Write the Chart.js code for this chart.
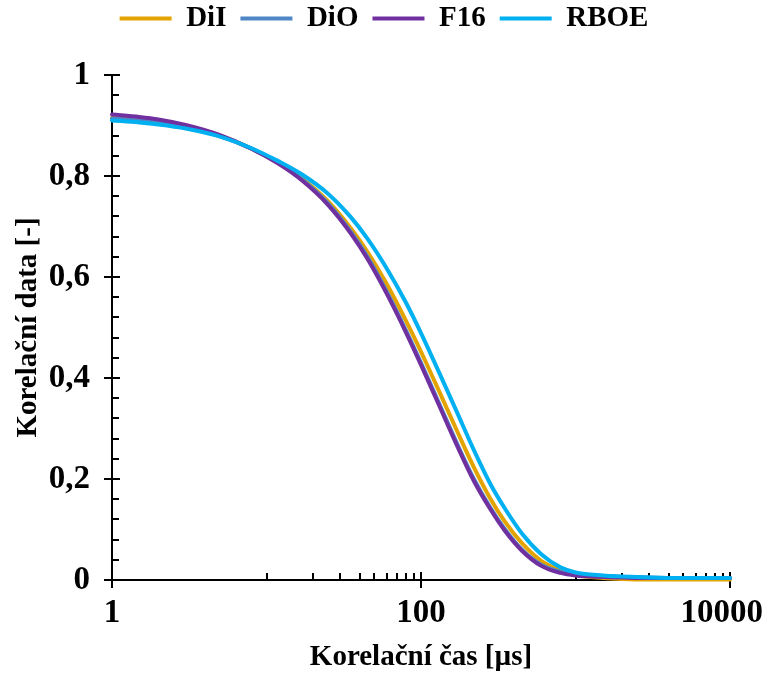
<!DOCTYPE html>
<html>
<head>
<meta charset="utf-8">
<script src="https://cdn.jsdelivr.net/npm/chart.js@4.4.0/dist/chart.umd.min.js"></script>
<style>
  html, body { margin: 0; padding: 0; background: #fff; }
</style>
</head>
<body>
<canvas id="chart" width="768" height="675"></canvas>
<script>
// correlation time [µs]
const times = [1, 1.5, 2, 3, 5, 8, 12, 17, 25, 35, 45, 60, 80, 100, 130, 170, 220, 280, 350, 450, 600, 800, 1000, 1500, 2000, 3000, 5000, 10000];

const diI  = [0.915, 0.911, 0.907, 0.898, 0.880, 0.854, 0.825, 0.795, 0.750, 0.697, 0.650, 0.586, 0.513, 0.452, 0.376, 0.297, 0.223, 0.162, 0.115, 0.073, 0.038, 0.019, 0.010, 0.004, 0.002, 0.001, 0.001, 0.001];
const diO  = [0.914, 0.910, 0.906, 0.897, 0.879, 0.854, 0.825, 0.793, 0.746, 0.690, 0.640, 0.571, 0.494, 0.430, 0.352, 0.272, 0.200, 0.144, 0.100, 0.060, 0.030, 0.016, 0.011, 0.008, 0.006, 0.005, 0.004, 0.004];
const f16  = [0.922, 0.917, 0.912, 0.901, 0.881, 0.854, 0.824, 0.791, 0.743, 0.687, 0.636, 0.567, 0.490, 0.426, 0.348, 0.268, 0.196, 0.141, 0.097, 0.058, 0.028, 0.014, 0.009, 0.006, 0.005, 0.004, 0.004, 0.004];
const rboe = [0.910, 0.906, 0.902, 0.894, 0.878, 0.855, 0.829, 0.803, 0.765, 0.719, 0.676, 0.617, 0.549, 0.489, 0.413, 0.334, 0.257, 0.191, 0.141, 0.092, 0.051, 0.025, 0.015, 0.009, 0.007, 0.005, 0.004, 0.004];

const seriesNames = ['DiI', 'DiO', 'F16', 'RBOE'];
const seriesColors = ['#E3A400', '#4F86C6', '#7030A0', '#00B0F0'];

const xLabelTicks = [1, 100, 10000];
const yMajorStep = 0.2;
const yMinorStep = 0.04;

const FONT = "'Liberation Serif', 'Times New Roman', serif";

// x minor ticks like excel log base 100 (10..90, 1000..9000)
const xMinorTicks = [];
for (let d = 10; d <= 1000; d *= 100) {
    for (let k = 1; k <= 9; k++) xMinorTicks.push(d * k);
}

const axisTicks = {
    id: 'axisTicks',
    beforeDatasetsDraw(chart) {
        const {ctx, chartArea: a, scales: {x, y}} = chart;
        ctx.save();
        ctx.strokeStyle = '#000';
        ctx.lineWidth = 2;
        ctx.beginPath();
        ctx.moveTo(a.left, a.top);
        ctx.lineTo(a.left, a.bottom);
        ctx.lineTo(a.right, a.bottom);

        for (let i = 0; i <= 25; i++) {
            const v = i * yMinorStep;
            const p = Math.round(y.getPixelForValue(v));
            if (i % 5 === 0) {
                ctx.moveTo(a.left - 8, p);
                ctx.lineTo(a.left + 8, p);
            } else {
                ctx.moveTo(a.left, p);
                ctx.lineTo(a.left + 7, p);
            }
        }
        xLabelTicks.forEach(v => {
            const p = Math.round(x.getPixelForValue(v));
            ctx.moveTo(p, a.bottom - 8);
            ctx.lineTo(p, a.bottom + 8);
        });
        xMinorTicks.forEach(v => {
            const p = Math.round(x.getPixelForValue(v));
            ctx.moveTo(p, a.bottom);
            ctx.lineTo(p, a.bottom - 7);
        });
        ctx.stroke();
        ctx.restore();
    }
};

const allValues = [diI, diO, f16, rboe];

const chart = new Chart(
    document.getElementById('chart'),
    {
        type: 'line',
        data: {
            datasets: allValues.map((vals, i) => ({
                label: seriesNames[i],
                data: times.map((t, j) => ({x: t, y: vals[j]})),
                borderColor: seriesColors[i],
                backgroundColor: seriesColors[i],
                borderWidth: 4,
                pointRadius: 0,
                cubicInterpolationMode: 'monotone',
                borderCapStyle: 'round',
                borderJoinStyle: 'round',
                clip: false,
                order: 4 - i
            }))
        },
        options: {
            responsive: false,
            animation: false,
            devicePixelRatio: 1,
            layout: {
                padding: {left: 0, right: 0, top: -10, bottom: 0}
            },
            plugins: {
                legend: {
                    position: 'top',
                    labels: {
                        color: '#000',
                        font: {family: FONT, size: 29, weight: 'bold'},
                        boxWidth: 52,
                        boxHeight: 4,
                        padding: 14,
                        sort: (a, b) => a.datasetIndex - b.datasetIndex,
                        generateLabels(chart) {
                            return Chart.defaults.plugins.legend.labels.generateLabels(chart)
                                .map(l => ({...l, fillStyle: l.strokeStyle, lineWidth: 0}));
                        }
                    }
                },
                // empty spacer between legend and plot
                subtitle: {
                    display: true,
                    text: '',
                    position: 'top',
                    weight: 500,
                    font: {size: 1, lineHeight: 1},
                    padding: {top: 0, bottom: 31}
                },
                tooltip: {enabled: false}
            },
            scales: {
                x: {
                    type: 'logarithmic',
                    min: 1,
                    max: 10000,
                    afterBuildTicks: s => {
                        s.ticks = xLabelTicks.map(v => ({value: v}));
                    },
                    afterFit: s => {
                        s.height = 95;
                        s.paddingRight = 38;
                    },
                    grid: {display: false, drawTicks: false},
                    border: {display: false},
                    ticks: {
                        color: '#000',
                        font: {family: FONT, size: 33, weight: 'bold'},
                        padding: 14,
                        maxRotation: 0,
                        autoSkip: false,
                        // last label kept inside the canvas, like excel does
                        callback: v => v === 10000 ? '10000\u2002' : String(v)
                    },
                    title: {
                        display: true,
                        text: 'Korelační čas [µs]',
                        color: '#000',
                        font: {family: FONT, size: 29, weight: 'bold', lineHeight: 1.2},
                        padding: {top: 0, bottom: 0}
                    }
                },
                y: {
                    min: 0,
                    max: 1,
                    afterFit: s => {
                        s.width = 112;
                    },
                    grid: {display: false, drawTicks: false},
                    border: {display: false},
                    ticks: {
                        stepSize: yMajorStep,
                        color: '#000',
                        font: {family: FONT, size: 33, weight: 'bold'},
                        padding: 22,
                        callback: v => String(Math.round(v * 10) / 10).replace('.', ',')
                    },
                    title: {
                        display: true,
                        text: 'Korelační data [-]',
                        color: '#000',
                        font: {family: FONT, size: 29, weight: 'bold', lineHeight: 1.2},
                        padding: {top: 11, bottom: 0}
                    }
                }
            }
        },
        plugins: [axisTicks]
    }
);
</script>
</body>
</html>
